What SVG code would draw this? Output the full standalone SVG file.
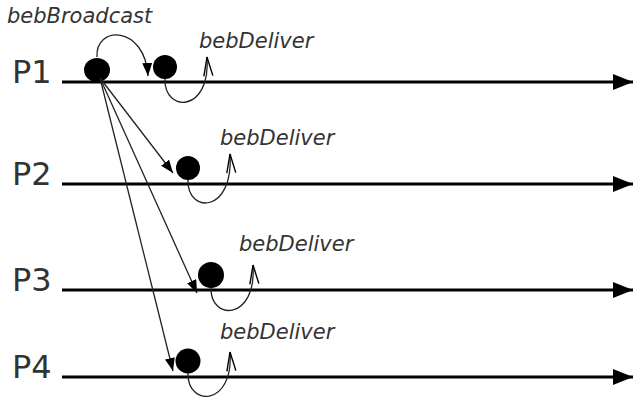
<svg xmlns="http://www.w3.org/2000/svg" width="633" height="397" viewBox="0 0 633 397">
<style>
.plabel{font-family:"DejaVu Sans",sans-serif;font-size:32px;fill:#333}
.ev{font-family:"DejaVu Sans",sans-serif;font-style:italic;font-size:21px;fill:#333}
.timeline{stroke:#000;stroke-width:3;fill:none}
.msg{stroke:#222;stroke-width:1.3;fill:none}
.dot{fill:#000}
</style>
<defs>
<marker id="big" markerUnits="userSpaceOnUse" markerWidth="22" markerHeight="18" refX="20" refY="8" orient="auto">
<path d="M0,0 L20,8 L0,16 Z" fill="#000"/>
</marker>
<marker id="fill" markerUnits="userSpaceOnUse" markerWidth="14" markerHeight="12" refX="13" refY="5" orient="auto">
<path d="M0,0 L13,5 L0,10 Z" fill="#000"/>
</marker>
<marker id="open" markerUnits="userSpaceOnUse" markerWidth="22" markerHeight="12" refX="20" refY="5" orient="auto">
<path d="M1,0.5 L20,5 L1,9.5" fill="none" stroke="#000" stroke-width="1.4"/>
</marker>
</defs>
<g id="P1">
<text class="plabel" x="12" y="83">P1</text>
<line class="timeline" x1="62" y1="82" x2="633" y2="82" marker-end="url(#big)"/>
</g>
<g id="P2">
<text class="plabel" x="12" y="185">P2</text>
<line class="timeline" x1="62" y1="184" x2="633" y2="184" marker-end="url(#big)"/>
</g>
<g id="P3">
<text class="plabel" x="12" y="291">P3</text>
<line class="timeline" x1="62" y1="290" x2="633" y2="290" marker-end="url(#big)"/>
</g>
<g id="P4">
<text class="plabel" x="12" y="378">P4</text>
<line class="timeline" x1="62" y1="377" x2="633" y2="377" marker-end="url(#big)"/>
</g>
<g id="send">
<ellipse class="dot" cx="97" cy="70" rx="13" ry="12"/>
<text class="ev" x="7" y="23">bebBroadcast</text>
</g>
<g id="deliver1">
<ellipse class="dot" cx="165" cy="67" rx="12" ry="12"/>
<text class="ev" x="199" y="48">bebDeliver</text>
</g>
<g id="deliver2">
<ellipse class="dot" cx="188" cy="168" rx="12" ry="12"/>
<text class="ev" x="220" y="145">bebDeliver</text>
</g>
<g id="deliver3">
<ellipse class="dot" cx="211" cy="275" rx="13" ry="13"/>
<text class="ev" x="239" y="251">bebDeliver</text>
</g>
<g id="deliver4">
<ellipse class="dot" cx="188" cy="361" rx="12.5" ry="12.5"/>
<text class="ev" x="220" y="339">bebDeliver</text>
</g>
<g id="connectors">
<path class="msg" d="M97,57 C95,25 145,25 148,76" marker-end="url(#fill)"/>
<line class="msg" x1="100" y1="78" x2="173" y2="173" marker-end="url(#fill)"/>
<line class="msg" x1="100" y1="78" x2="197" y2="293" marker-end="url(#fill)"/>
<line class="msg" x1="100" y1="78" x2="173" y2="371" marker-end="url(#fill)"/>
<path class="msg" d="M165,79 C164,113 211,113 207,57" marker-end="url(#open)"/>
<path class="msg" d="M188,180 C187,214 234,214 230,154" marker-end="url(#open)"/>
<path class="msg" d="M211,288 C210,321 257,321 253,265" marker-end="url(#open)"/>
<path class="msg" d="M188,373 C187,407 234,407 230,352" marker-end="url(#open)"/>
</g>
</svg>
